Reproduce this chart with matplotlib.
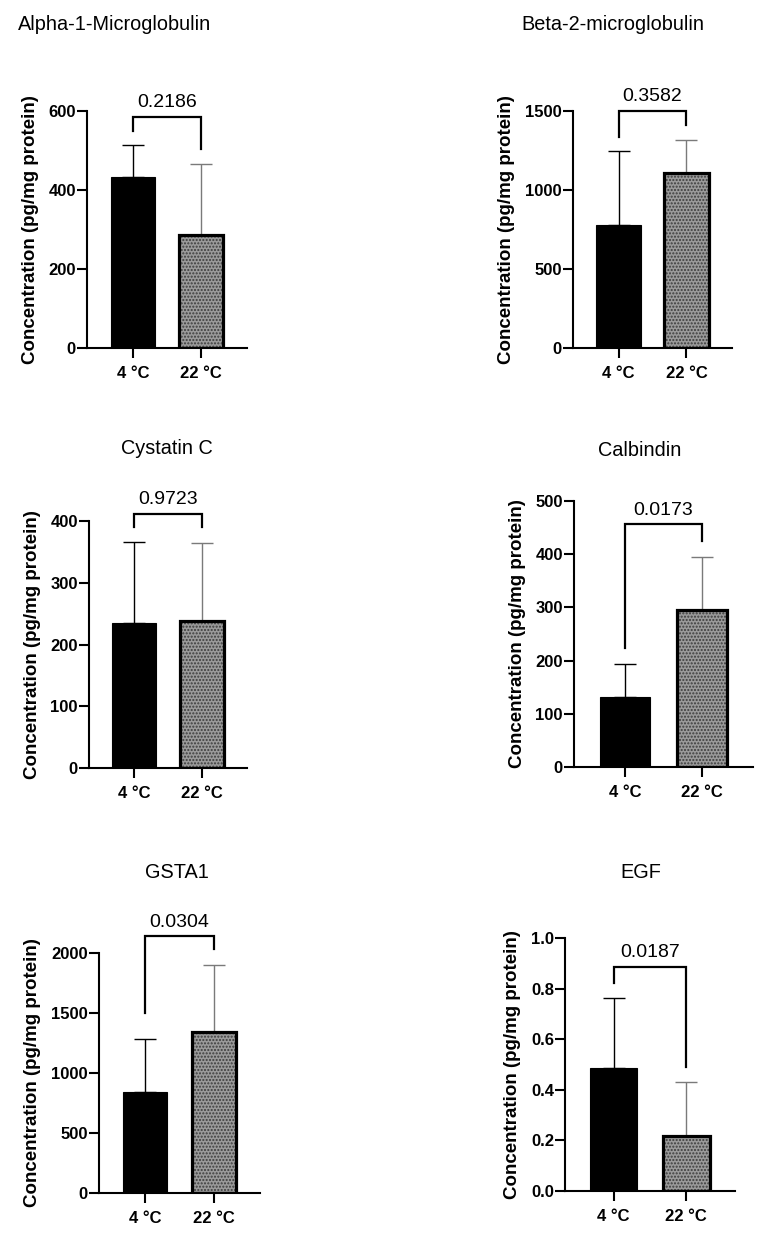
import matplotlib
matplotlib.use("Agg")
import matplotlib.pyplot as plt

plt.rcParams['font.family'] = ['Liberation Sans', 'DejaVu Sans']
plt.rcParams['hatch.linewidth'] = 1.0

groups = ['4 °C', '22 °C']

titles = ['Alpha-1-Microglobulin', 'Beta-2-microglobulin', 'Cystatin C',
          'Calbindin', 'GSTA1', 'EGF']
means = [[433, 286], [778, 1108], [235, 238],
         [131, 295], [842, 1342], [0.486, 0.217]]
errors = [[81, 180], [469, 208], [131, 126],
          [63, 100], [441, 558], [0.277, 0.214]]
pvalues = ['0.2186', '0.3582', '0.9723', '0.0173', '0.0304', '0.0187']
# bracket: top, left leg end, right leg end
brackets = [[585, 549, 504], [1500, 1337, 1410], [412, 391, 391],
            [456, 223, 425], [2139, 1497, 2031], [0.886, 0.823, 0.491]]
yticks = [[0, 200, 400, 600], [0, 500, 1000, 1500], [0, 100, 200, 300, 400],
          [0, 100, 200, 300, 400, 500], [0, 500, 1000, 1500, 2000],
          [0.0, 0.2, 0.4, 0.6, 0.8, 1.0]]
ytick_labels = [[str(t) for t in yt] for yt in yticks[:5]] + \
               [['%.1f' % t for t in yticks[5]]]

W, H = 768, 1239
# axes boxes in pixels: left, right, top, bottom
boxes = [(87, 247, 111, 348), (573, 732, 111, 348), (89, 247, 521, 768),
         (574, 753, 501, 767), (99, 260, 953, 1193), (565, 735, 938, 1191)]
title_pos = [(115, 25), (613, 24), (167, 449), (640, 451), (177, 872), (641, 872)]

fig = plt.figure(figsize=(W / 100, H / 100), dpi=100)

for i in range(6):
    l, r, t, b = boxes[i]
    ax = fig.add_axes([l / W, 1 - b / H, (r - l) / W, (b - t) / H])
    x = [0, 1]
    width = 0.65

    # error bars (upper only)
    for j in range(2):
        col = 'black' if j == 0 else '#7a7a7a'
        ax.errorbar(x[j], means[i][j], yerr=[[0], [errors[i][j]]], fmt='none',
                    ecolor=col, elinewidth=1.0, capsize=8, capthick=1.0, zorder=1)

    ax.bar(x[0], means[i][0], width, color='black', edgecolor='black',
           linewidth=0.8, zorder=2)
    ax.bar(x[1], means[i][1], width, color='#9a9a9a', edgecolor='#3c3c3c',
           hatch='.....', linewidth=0, zorder=2)
    ax.bar(x[1], means[i][1], width, facecolor='none', edgecolor='black',
           linewidth=2.3, zorder=3)

    # significance bracket
    top, lft, rgt = brackets[i]
    ax.plot([x[0], x[0], x[1], x[1]], [lft, top, top, rgt], color='black',
            lw=1.6, clip_on=False, solid_joinstyle='miter', zorder=4)
    ax.annotate(pvalues[i], xy=(0.5, top), xytext=(0, 4), textcoords='offset points',
                ha='center', va='bottom', fontsize=14, annotation_clip=False)

    ax.set_xlim(-0.67, 1.67)
    ax.set_ylim(yticks[i][0], yticks[i][-1])
    ax.set_yticks(yticks[i])
    ax.set_yticklabels(ytick_labels[i], fontweight='bold', fontsize=12)
    ax.set_xticks(x)
    ax.set_xticklabels(groups, fontweight='bold', fontsize=12)
    ax.tick_params(axis='y', length=7, width=1.5, pad=1)
    ax.tick_params(axis='x', length=7, width=1.5, pad=6)
    ax.set_ylabel('Concentration (pg/mg protein)', fontweight='bold',
                  fontsize=13.5, labelpad=7)
    for s in ['top', 'right']:
        ax.spines[s].set_visible(False)
    for s in ['left', 'bottom']:
        ax.spines[s].set_linewidth(1.5)

    tx, ty = title_pos[i]
    fig.text(tx / W, 1 - ty / H, titles[i], ha='center', va='center', fontsize=14.3)

fig.savefig('out.png', dpi=100)
